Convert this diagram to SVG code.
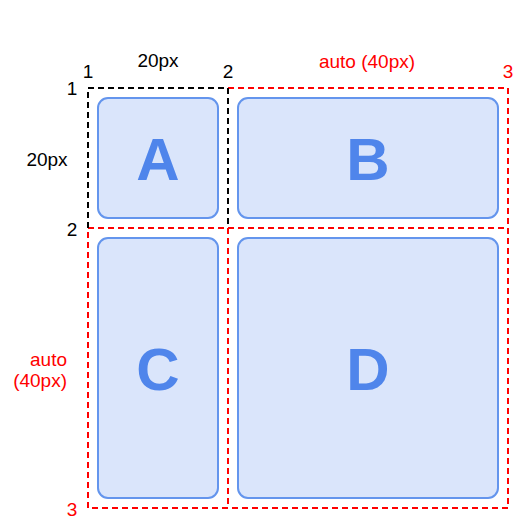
<svg xmlns="http://www.w3.org/2000/svg" width="526" height="526" viewBox="0 0 526 526">
<style>
.cell{fill:#dae5fb;stroke:#6495ed;stroke-width:2}
.letter{font-family:"Liberation Sans",Arial,sans-serif;font-weight:bold;font-size:60px;fill:#4f85eb;text-anchor:middle}
.lbl{font-family:"Liberation Sans",Arial,sans-serif;font-size:19px;text-anchor:middle}
.end{text-anchor:end}
.blk{fill:#000}
.red{fill:#ff0000}
.dash{fill:none;stroke-width:2;stroke-dasharray:6 4}
.k{stroke:#000}
.r{stroke:#ff0000}
</style>
<rect width="526" height="526" fill="#fff"/>
<g id="A"><rect class="cell" x="98" y="98" width="120" height="120" rx="10"/><text class="letter" x="158" y="180">A</text></g>
<g id="B"><rect class="cell" x="238" y="98" width="260" height="120" rx="10"/><text class="letter" x="368" y="180">B</text></g>
<g id="C"><rect class="cell" x="98" y="238" width="120" height="260" rx="10"/><text class="letter" x="158" y="390">C</text></g>
<g id="D"><rect class="cell" x="238" y="238" width="260" height="260" rx="10"/><text class="letter" x="368" y="390">D</text></g>
<g id="connectors">
<path class="dash r" d="M228 88H508V508H88V228 M228 228V508 M228 228H508 M88 228H228"/>
<path class="dash k" d="M88 228V88H228V228"/>
</g>
<g id="labels">
<text class="lbl blk" x="88" y="78">1</text>
<text class="lbl blk" x="158" y="67">20px</text>
<text class="lbl blk" x="228" y="78">2</text>
<text class="lbl red" x="367" y="68">auto (40px)</text>
<text class="lbl red" x="508" y="78">3</text>
<text class="lbl blk" x="72" y="95">1</text>
<text class="lbl blk" x="47" y="166">20px</text>
<text class="lbl blk" x="72" y="236">2</text>
<text class="lbl red end" x="67" y="366">auto</text>
<text class="lbl red end" x="67" y="387">(40px)</text>
<text class="lbl red" x="72" y="516">3</text>
</g>
</svg>
